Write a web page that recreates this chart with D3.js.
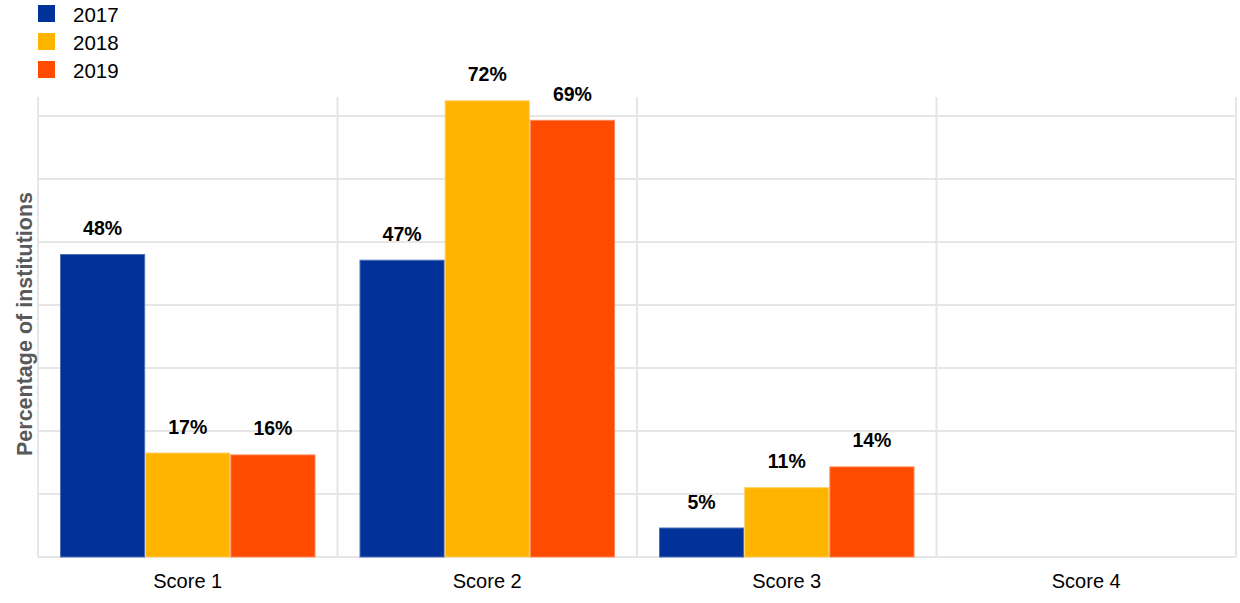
<!DOCTYPE html>
<html>
<head>
<meta charset="utf-8">
<script src="https://cdn.jsdelivr.net/npm/d3@7"></script>
<style>
  html, body { margin: 0; padding: 0; background: #fff; }
  svg { display: block; font-family: Arial, "Liberation Sans", sans-serif; }
</style>
</head>
<body>
<svg id="chart" width="1240" height="603"></svg>
<script>
const categories = ["Score 1", "Score 2", "Score 3", "Score 4"];
const seriesNames = ["2017", "2018", "2019"];
const values2017 = [0.480, 0.471, 0.046, 0];
const values2018 = [0.165, 0.724, 0.110, 0];
const values2019 = [0.162, 0.693, 0.143, 0];
const colors = ["#003299", "#FFB400", "#FF4B00"];
const strokeColors = ["#4d6fb8", "#ffd066", "#ff8a5c"];
const yTicks = [0, 0.1, 0.2, 0.3, 0.4, 0.5, 0.6, 0.7];
const yMax = 0.73;
const yTitle = "Percentage of institutions";

const series = [values2017, values2018, values2019];

(function () {
const svg = d3.select("#chart");
const pLeft = 38, pRight = 1236, pTop = 97, pBottom = 557;

const x0 = d3.scaleBand().domain(categories).range([pLeft, pRight]).padding(0);
const step = x0.bandwidth();
const innerPad = 22;
const x1 = d3.scaleBand().domain(seriesNames).range([innerPad, step - innerPad]).padding(0);
const y = d3.scaleLinear().domain([0, yMax]).range([pBottom, pTop]);

// horizontal gridlines
svg.append("g").selectAll("line").data(yTicks).join("line")
  .attr("x1", pLeft).attr("x2", pRight)
  .attr("y1", d => y(d)).attr("y2", d => y(d))
  .attr("stroke", "#e6e6e6").attr("stroke-width", 2);

// vertical separators
const bounds = categories.map(c => x0(c)).concat([x0(categories[categories.length - 1]) + step]);
svg.append("g").selectAll("line").data(bounds).join("line")
  .attr("x1", d => d).attr("x2", d => d)
  .attr("y1", pTop).attr("y2", pBottom)
  .attr("stroke", "#e6e6e6").attr("stroke-width", 2);

// bars
const groups = svg.append("g").selectAll("g").data(categories).join("g")
  .attr("transform", d => `translate(${x0(d)},0)`);

seriesNames.forEach((s, si) => {
  const val = c => series[si][categories.indexOf(c)];
  const g = groups.filter(c => val(c) > 0);
  g.append("rect")
    .attr("x", x1(s) + 0.5)
    .attr("width", x1.bandwidth() - 1)
    .attr("y", c => y(val(c)))
    .attr("height", c => y(0) - y(val(c)))
    .attr("fill", colors[si])
    .attr("stroke", strokeColors[si])
    .attr("stroke-width", 1);

  g.append("text")
    .attr("x", x1(s) + x1.bandwidth() / 2)
    .attr("y", c => y(val(c)) - 19.5)
    .attr("text-anchor", "middle")
    .attr("font-size", 19.5)
    .attr("font-weight", "bold")
    .attr("fill", "#000")
    .text(c => Math.round(val(c) * 100) + "%");
});

// x axis labels
const xAxis = d3.axisBottom(x0).tickSize(0).tickPadding(0);
const gx = svg.append("g").attr("transform", `translate(0,${pBottom})`).call(xAxis);
gx.select(".domain").remove();
gx.selectAll("text")
  .attr("font-size", 20).attr("fill", "#000")
  .attr("font-family", "Arial, 'Liberation Sans', sans-serif")
  .attr("dy", null).attr("y", 31);

// y title
svg.append("text")
  .attr("transform", `translate(32,${(pTop + pBottom) / 2 - 3}) rotate(-90)`)
  .attr("text-anchor", "middle")
  .attr("font-size", 21.5)
  .attr("font-weight", "bold")
  .attr("fill", "#595959")
  .text(yTitle);

// legend
const legend = svg.append("g").selectAll("g").data(seriesNames).join("g")
  .attr("transform", (d, i) => `translate(38,${5 + i * 28})`);
legend.append("rect").attr("width", 17).attr("height", 17).attr("fill", (d, i) => colors[i]);
legend.append("text").attr("x", 35).attr("y", 16.7)
  .attr("font-size", 20.5).attr("fill", "#000").text(d => d);
})();
</script>
</body>
</html>
